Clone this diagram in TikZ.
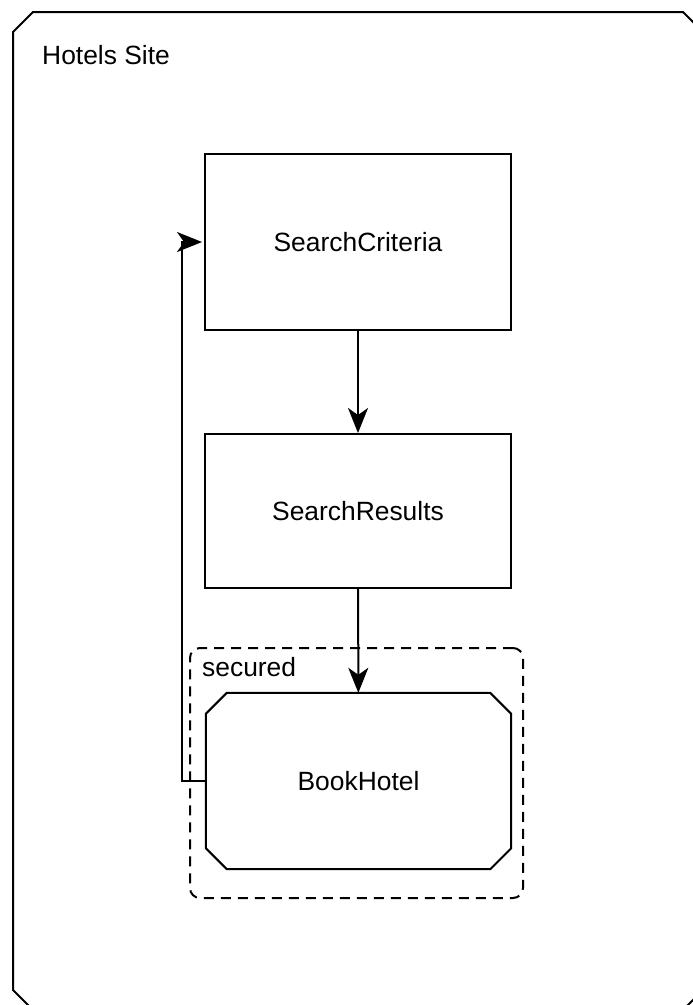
\documentclass[tikz,border=0pt]{standalone}
\usepackage{fontspec}
\setmainfont{Liberation Sans}
\usetikzlibrary{arrows.meta}
\begin{document}
\begin{tikzpicture}[x=1pt,y=-1pt,
  every node/.style={font=\fontsize{26.4}{30}\selectfont, inner sep=0pt},
  frameline/.style={line width=2pt, draw=black},
  statebox/.style={draw=black, line width=2pt, rectangle, minimum width=306pt},
  arr/.style={line width=2pt, -{Stealth[length=25pt, width=20pt, inset=7pt]}},
  securedbox/.style={draw=black, line width=2pt, dash pattern=on 10pt off 7pt, rounded corners=10pt, minimum width=333pt, minimum height=250pt}
]
\useasboundingbox (0,0) rectangle (693,1005);
\clip (0,0) rectangle (693,1005);
% outer frame
\draw[frameline] (13,32) -- (33,12) -- (683,12) -- (703,32) -- (703,990) -- (683,1010) -- (33,1010) -- (13,990) -- cycle;
\node[anchor=west] (site) at (42,55) {Hotels Site};
% secured container
\node[securedbox] (sec) at (356.5,773) {};
\node[anchor=west] (seclabel) at (202,667) {secured};
% states
\node[statebox, minimum height=176pt] (sc) at (358,242) {SearchCriteria};
\node[statebox, minimum height=154pt] (sr) at (358,511) {SearchResults};
\node[minimum width=305pt, minimum height=176pt] (bh) at (358.5,781) {BookHotel};
\draw[frameline, line join=miter]
  ([xshift=21pt]bh.north west) -- ([xshift=-21pt]bh.north east) --
  ([yshift=-21pt]bh.north east) -- ([yshift=21pt]bh.south east) --
  ([xshift=-21pt]bh.south east) -- ([xshift=21pt]bh.south west) --
  ([yshift=21pt]bh.south west) -- ([yshift=-21pt]bh.north west) -- cycle;
% connectors
\draw[arr] (sc) -- (sr);
\draw[arr] (sr) -- (bh);
\coordinate (loopb) at ([xshift=-24pt]bh.west);
\coordinate (loopt) at (loopb |- sc.west);
\draw[line width=2pt, line cap=rect] (bh.west) -- (loopb) -- (loopt);
\draw[arr] (loopt) -- ([xshift=-2pt]sc.west);
\end{tikzpicture}
\end{document}
